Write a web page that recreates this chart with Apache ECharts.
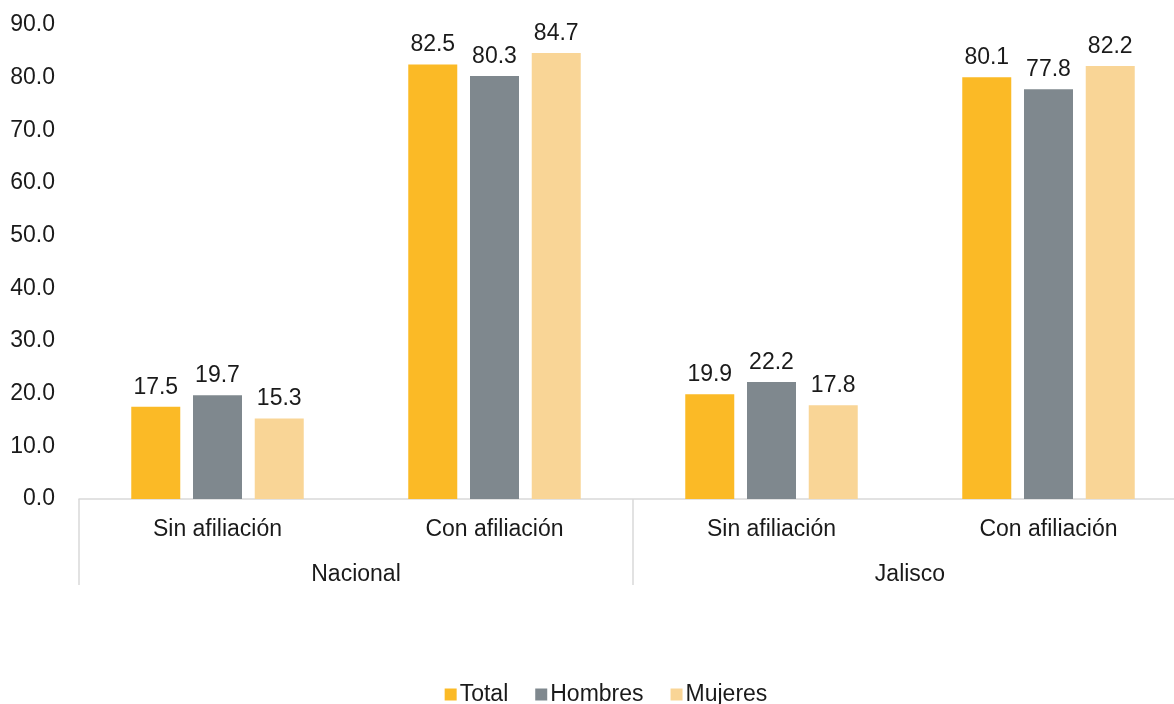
<!DOCTYPE html>
<html><head><meta charset="utf-8">
<script src="https://cdn.jsdelivr.net/npm/echarts@6/dist/echarts.min.js"></script>
<style>html,body{margin:0;padding:0;background:#fff;overflow:hidden;width:1174px;height:704px}#c{width:1212px;height:704px}</style>
</head><body><div id="c"></div>
<script>
var categories = ['Sin afiliación', 'Con afiliación', 'Sin afiliación', 'Con afiliación'];
var groups = ['Nacional', 'Jalisco'];
var seriesNames = ['Total', 'Hombres', 'Mujeres'];
var totalValues = [17.5, 82.5, 19.9, 80.1];
var hombresValues = [19.7, 80.3, 22.2, 77.8];
var mujeresValues = [15.3, 84.7, 17.8, 82.2];
var colors = ['#FBBA26', '#7F888E', '#F9D596'];
var font = 'Liberation Sans, Arial, sans-serif';
var fs = 23;

var chart = echarts.init(document.getElementById('c'));
function mk(name, data, color) {
  return {
    name: name, type: 'bar', data: data, xAxisIndex: 0,
    barWidth: 49, barGap: '26%',
    itemStyle: { color: color },
    label: { show: true, position: 'top', distance: 8, color: '#1a1a1a', fontSize: fs, fontFamily: font,
      formatter: function (p) { return p.value.toFixed(1); } }
  };
}
chart.setOption({
  animation: false,
  textStyle: { fontFamily: font },
  grid: { left: 79, top: 25, width: 1108, height: 474 },
  legend: {
    bottom: -7, left: 'center', itemWidth: 12, itemHeight: 12, itemGap: 27, itemStyle: { borderWidth: 0 },
    icon: 'rect', textStyle: { fontSize: fs, color: '#1a1a1a', fontFamily: font, padding: [0, 0, 0, -2] },
    data: seriesNames
  },
  xAxis: [
    { type: 'category', data: categories, position: 'bottom',
      axisLine: { show: true, lineStyle: { color: '#D9D9D9', width: 1.5 } },
      axisTick: { show: false },
      axisLabel: { color: '#1a1a1a', fontSize: fs, fontFamily: font, margin: 19 } },
    { type: 'category', data: groups, position: 'bottom',
      axisLine: { show: false },
      axisTick: { show: true, length: 86, lineStyle: { color: '#D9D9D9', width: 1.5 } },
      axisLabel: { color: '#1a1a1a', fontSize: fs, fontFamily: font, margin: 64 } }
  ],
  yAxis: {
    type: 'value', min: 0, max: 90, interval: 10,
    axisLine: { show: false }, axisTick: { show: false }, splitLine: { show: false },
    axisLabel: { color: '#1a1a1a', fontSize: fs, fontFamily: font, margin: 24,
      formatter: function (v) { return v.toFixed(1); } }
  },
  series: [
    mk(seriesNames[0], totalValues, colors[0]),
    mk(seriesNames[1], hombresValues, colors[1]),
    mk(seriesNames[2], mujeresValues, colors[2])
  ]
});
</script></body></html>
